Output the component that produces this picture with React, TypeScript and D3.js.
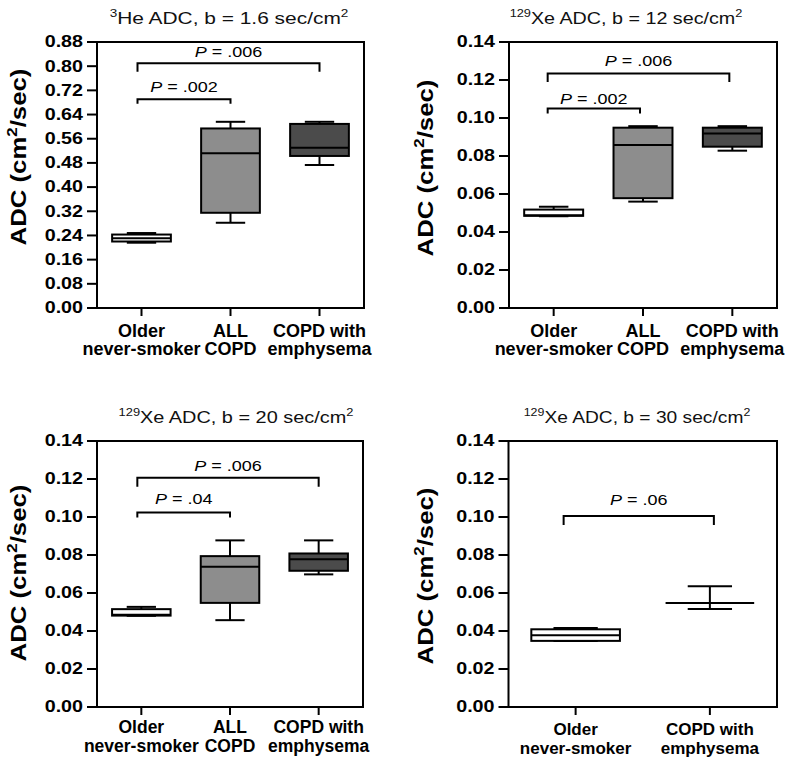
import React from "react";
import * as d3 from "d3";

// ---------- data ----------
const groupsThree = [["Older", "never-smoker"], ["ALL", "COPD"], ["COPD with", "emphysema"]];
const groupsTwo = [["Older", "never-smoker"], ["COPD with", "emphysema"]];

// [min, q1, median, q3, max]
const heStats = [
  [0.216, 0.220, 0.231, 0.243, 0.248],
  [0.282, 0.315, 0.512, 0.594, 0.616],
  [0.473, 0.503, 0.530, 0.609, 0.616],
];
const xe12Stats = [
  [0.0483, 0.0485, 0.0488, 0.0518, 0.0533],
  [0.0560, 0.0578, 0.0858, 0.0949, 0.0957],
  [0.0828, 0.0849, 0.0919, 0.0949, 0.0957],
];
const xe20Stats = [
  [0.0480, 0.0481, 0.0486, 0.0515, 0.0527],
  [0.0457, 0.0548, 0.0738, 0.0794, 0.0877],
  [0.0698, 0.0717, 0.0778, 0.0808, 0.0877],
];
const xe30Stats = [
  [0.0347, 0.0348, 0.0378, 0.0409, 0.0416],
  [0.0516, 0.0548, 0.0548, 0.0548, 0.0636],
];

const heTicks = [0, 0.08, 0.16, 0.24, 0.32, 0.4, 0.48, 0.56, 0.64, 0.72, 0.8, 0.88];
const xeTicks = [0, 0.02, 0.04, 0.06, 0.08, 0.1, 0.12, 0.14];

// brackets: [fromGroup, toGroup, level, p-text]
const heBrackets: [number, number, number, string][] = [[0, 2, 0.8095, ".006"], [0, 1, 0.691, ".002"]];
const xe12Brackets: [number, number, number, string][] = [[0, 2, 0.1234, ".006"], [0, 1, 0.105, ".002"]];
const xe20Brackets: [number, number, number, string][] = [[0, 2, 0.1207, ".006"], [0, 1, 0.1024, ".04"]];
const xe30Brackets: [number, number, number, string][] = [[0, 1, 0.1005, ".06"]];

const titleNuclei = ["3", "129", "129", "129"];
const titleElements = ["He", "Xe", "Xe", "Xe"];
const titleB = ["1.6", "12", "20", "30"];

// ---------- styles / layout ----------
const FONT = "'Liberation Sans', Arial, Helvetica, sans-serif";
const fillsThree = ["#ffffff", "#8d8d8d", "#4b4b4b"];
const fillsTwo = ["#ffffff", "#4b4b4b"];

const panels = [
  {
    x0: 97, x1: 364, y0: 42, y1: 308, domain: [0, 0.88], ticks: heTicks, stats: heStats,
    groups: groupsThree, fills: fillsThree, brackets: heBrackets, t: 0,
    titleX: 229, titleY: 24, titleScale: 1.23, xlabSize: 18,
    ylabX: 26, ylabY: 157, xlabDy: [28.5, 47], legs: [8.5, 4.5], gaps: [6, 7], bx: [-4, 0],
  },
  {
    x0: 509, x1: 777, y0: 42, y1: 308, domain: [0, 0.14], ticks: xeTicks, stats: xe12Stats,
    groups: groupsThree, fills: fillsThree, brackets: xe12Brackets, t: 1,
    titleX: 626, titleY: 24, titleScale: 1.16, xlabSize: 18,
    ylabX: 433, ylabY: 168, xlabDy: [28.5, 47], legs: [8.5, 5], gaps: [8, 4.5], bx: [-6, -3],
  },
  {
    x0: 97, x1: 363, y0: 441, y1: 707, domain: [0, 0.14], ticks: xeTicks, stats: xe20Stats,
    groups: groupsThree, fills: fillsThree, brackets: xe20Brackets, t: 2,
    titleX: 236, titleY: 423, titleScale: 1.17, xlabSize: 17.5,
    ylabX: 25.5, ylabY: 573, xlabDy: [25.5, 45], legs: [9, 5], gaps: [7, 8], bx: [-4, 0],
  },
  {
    x0: 508.5, x1: 777, y0: 441, y1: 707, domain: [0, 0.14], ticks: xeTicks, stats: xe30Stats,
    groups: groupsTwo, fills: fillsTwo, brackets: xe30Brackets, t: 3,
    titleX: 637, titleY: 423, titleScale: 1.13, xlabSize: 17,
    ylabX: 433, ylabY: 576, xlabDy: [28, 46.5], legs: [9, 5], gaps: [11, 8], bx: [-12, 4],
  },
];

function Panel({ p }: { p: any }) {
  const y = d3.scaleLinear().domain(p.domain).range([p.y1, p.y0]);
  const x = d3.scaleBand<number>().domain(p.groups.map((_: any, i: number) => i)).range([p.x0, p.x1]);
  const cx = (i: number) => (x(i) as number) + x.bandwidth() / 2;
  const bw = x.bandwidth() * 0.66;
  const cw = bw / 2;
  const fmt = d3.format(".2f");
  const sw = 2;

  return (
    <g>
      {/* title */}
      <text
        transform={`translate(${p.titleX},${p.titleY}) scale(${p.titleScale},1)`}
        textAnchor="middle" fontFamily={FONT} fontSize={17} fill="#111"
      >
        <tspan fontSize={11} dy={-7}>{titleNuclei[p.t]}</tspan>
        <tspan dy={7}>{`${titleElements[p.t]} ADC, b = ${titleB[p.t]} sec/cm`}</tspan>
        <tspan fontSize={11} dy={-7}>2</tspan>
      </text>

      {/* y label */}
      <text
        transform={`translate(${p.ylabX},${p.ylabY}) rotate(-90) scale(1.12,1)`}
        textAnchor="middle" fontFamily={FONT} fontSize={23} fontWeight="bold" fill="#000"
      >
        <tspan>ADC (cm</tspan>
        <tspan fontSize={15} dy={-9}>2</tspan>
        <tspan dy={9}>/sec)</tspan>
      </text>

      {/* y ticks */}
      {p.ticks.map((v: number) => (
        <g key={v}>
          <line x1={p.x0 - 10} x2={p.x0} y1={y(v)} y2={y(v)} stroke="#000" strokeWidth={sw} />
          <text
            transform={`translate(${p.x0 - 14},${y(v)}) scale(1.23,1)`}
            textAnchor="end" dominantBaseline="central" fontFamily={FONT}
            fontSize={16} fontWeight="bold" fill="#000"
          >
            {fmt(v)}
          </text>
        </g>
      ))}

      {/* x ticks and labels */}
      {p.groups.map((lines: string[], i: number) => (
        <g key={i}>
          <line x1={cx(i)} x2={cx(i)} y1={p.y1} y2={p.y1 + 8} stroke="#000" strokeWidth={sw} />
          {lines.map((s, k) => (
            <text key={k} x={cx(i)} y={p.y1 + p.xlabDy[k]} textAnchor="middle"
              fontFamily={FONT} fontSize={p.xlabSize} fontWeight="bold" fill="#000">{s}</text>
          ))}
        </g>
      ))}

      {/* boxes */}
      {p.stats.map((s: number[], i: number) => {
        const [mn, q1, md, q3, mx] = s;
        const c = cx(i);
        return (
          <g key={i} stroke="#000" strokeWidth={sw}>
            <line x1={c} x2={c} y1={y(q3)} y2={y(mx)} />
            <line x1={c} x2={c} y1={y(q1)} y2={y(mn)} />
            <line x1={c - cw / 2} x2={c + cw / 2} y1={y(mx)} y2={y(mx)} />
            <line x1={c - cw / 2} x2={c + cw / 2} y1={y(mn)} y2={y(mn)} />
            {y(q1) - y(q3) > 0 && (
              <rect x={c - bw / 2} y={y(q3)} width={bw} height={y(q1) - y(q3)} fill={p.fills[i]} />
            )}
            <line x1={c - bw / 2} x2={c + bw / 2} y1={y(md)} y2={y(md)} />
          </g>
        );
      })}

      {/* brackets */}
      {p.brackets.map((b: [number, number, number, string], k: number) => {
        const [from, to, lvl, txt] = b;
        const xa = cx(from) + p.bx[0];
        const xb = cx(to) + p.bx[1];
        const yy = y(lvl);
        const leg = p.legs[k];
        return (
          <g key={k}>
            <path d={`M${xa},${yy + leg}V${yy}H${xb}V${yy + leg}`} fill="none" stroke="#000" strokeWidth={sw} />
            <text
              transform={`translate(${(xa + xb) / 2},${yy - p.gaps[k]}) scale(1.2,1)`}
              textAnchor="middle" fontFamily={FONT} fontSize={15} fill="#000"
            >
              <tspan fontStyle="italic">P</tspan>
              <tspan>{` = ${txt}`}</tspan>
            </text>
          </g>
        );
      })}

      {/* frame */}
      <rect x={p.x0} y={p.y0} width={p.x1 - p.x0} height={p.y1 - p.y0} fill="none" stroke="#000" strokeWidth={sw} />
    </g>
  );
}

export default function App() {
  return (
    <svg
      width={787}
      height={757}
      viewBox="0 0 787 757"
      style={{ position: "absolute", left: 0, top: 0, background: "#fff", display: "block" }}
    >
      <rect width={787} height={757} fill="#fff" />
      {panels.map((p, i) => (
        <Panel key={i} p={p} />
      ))}
    </svg>
  );
}
